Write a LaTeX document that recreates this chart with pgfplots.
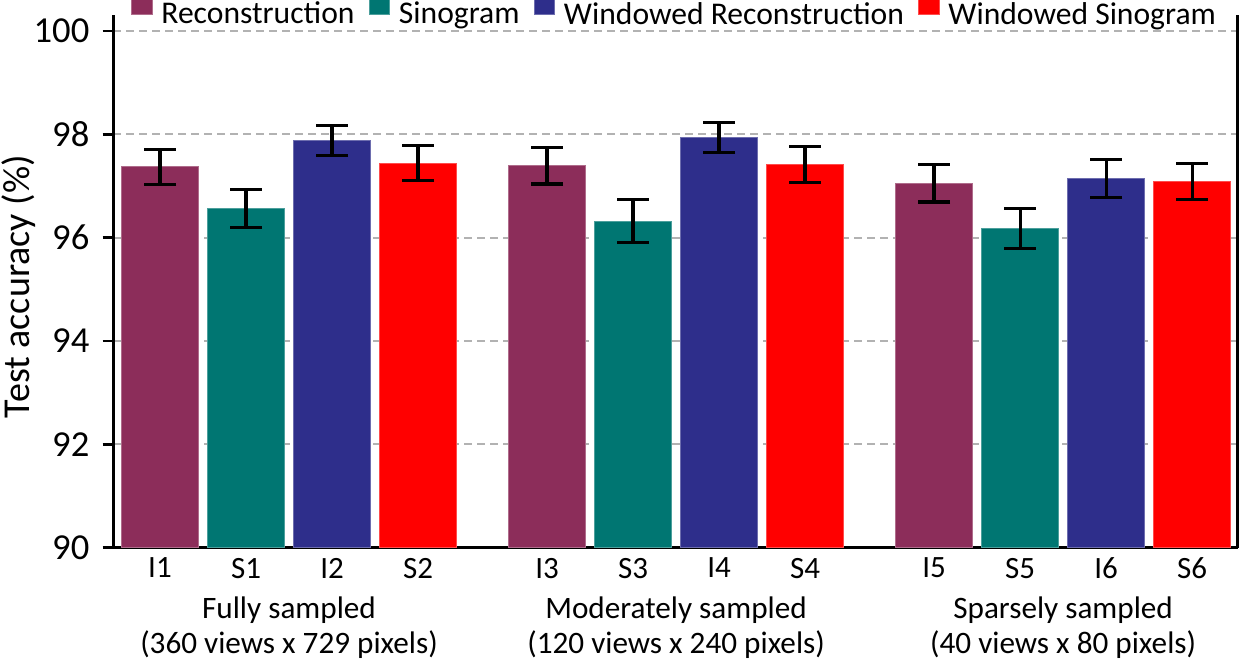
\documentclass[border=0pt]{standalone}
\usepackage{pgfplots}
\pgfplotsset{compat=1.18}
\usepackage{fontspec}
\setmainfont{Carlito}
\definecolor{recon}{RGB}{140,45,90}
\definecolor{sino}{RGB}{0,118,114}
\definecolor{wrecon}{RGB}{46,46,139}
\definecolor{wsino}{RGB}{255,0,0}
\definecolor{gridgray}{RGB}{178,178,178}

\pgfplotstableread{
x y e
0 97.37 0.34
4.5 97.39 0.35
9 97.05 0.36
}\recon
\pgfplotstableread{
x y e
1 96.56 0.37
5.5 96.32 0.42
10 96.18 0.39
}\sino
\pgfplotstableread{
x y e
2 97.88 0.29
6.5 97.94 0.29
11 97.14 0.37
}\wrecon
\pgfplotstableread{
x y e
3 97.44 0.34
7.5 97.42 0.35
12 97.09 0.35
}\wsino

\begin{document}
\begin{tikzpicture}
\begin{axis}[
  name=ax,
  scale only axis,
  width=562.2pt, height=266.3pt,
  xmin=-0.543, xmax=12.53,
  ymin=90, ymax=100.31,
  axis x line*=bottom,
  axis y line*=box,
  axis line style={line width=1.3pt, black},
  ytick={90,92,94,96,98,100},
  ytick pos=left,
  tick align=outside,
  major tick length=5.3pt,
  ytick style={line width=1.3pt, black},
  xtick={0,1,2,3,4.5,5.5,6.5,7.5,9,10,11,12},
  xticklabels={I1,S1,I2,S2,I3,S3,I4,S4,I5,S5,I6,S6},
  xtick style={draw=none},
  /pgf/number format/assume math mode=true,
  yticklabel style={font=\fontsize{18.3}{20}\selectfont, inner sep=0pt, anchor=east, xshift=-6.5pt},
  xticklabel style={font=\fontsize{15.5}{17}\selectfont, inner sep=0pt, anchor=north, yshift=0.3pt},
  ymajorgrids,
  grid style={gridgray, line width=1pt, dash pattern=on 4pt off 2.5pt},
  ylabel={Test accuracy (\%)},
  every axis y label/.style={at={(axis description cs:-0.0996,0.49)}, rotate=90, anchor=north, inner sep=0pt, font=\fontsize{19}{21}\selectfont},
  ybar, bar width=0.892, bar shift=0pt,
  legend columns=4,
  legend style={at={(axis description cs:0.4982,1)}, anchor=center, yshift=2.0pt, draw=none, fill=none,
    inner sep=0pt, outer sep=0pt,
    font=\fontsize{15.8}{17}\selectfont,
    /tikz/every even column/.append style={column sep=7pt},
    /tikz/every odd column/.append style={column sep=4.5pt},
    nodes={inner sep=0pt}},
  legend image code/.code={\fill[#1] (0pt,0pt) rectangle (10.3pt,9.6pt);},
  error bars/error bar style={line width=1.6pt, black},
  error bars/error mark options={rotate=90, mark size=8pt, line width=1.6pt, black},
]
\addplot[fill=recon, draw=recon!70!white, line width=0.4pt, error bars/.cd, y dir=both, y explicit] table[x=x, y=y, y error=e] {\recon};
\addlegendentry{Reconstruction}
\addplot[fill=sino, draw=sino!70!white, line width=0.4pt, error bars/.cd, y dir=both, y explicit] table[x=x, y=y, y error=e] {\sino};
\addlegendentry{Sinogram}
\addplot[fill=wrecon, draw=wrecon!70!white, line width=0.4pt, error bars/.cd, y dir=both, y explicit] table[x=x, y=y, y error=e] {\wrecon};
\addlegendentry{Windowed Reconstruction}
\addplot[fill=wsino, draw=wsino!70!white, line width=0.4pt, error bars/.cd, y dir=both, y explicit] table[x=x, y=y, y error=e] {\wsino};
\addlegendentry{Windowed Sinogram}
\coordinate (g1) at (axis cs:1.5,90);
\coordinate (g2) at (axis cs:6,90);
\coordinate (g3) at (axis cs:10.5,90);
\end{axis}
\begin{scope}[every node/.style={anchor=north, align=center, inner sep=0pt, yshift=-24.2pt, font=\fontsize{15.6}{17.8}\selectfont}]
\node at (g1) {Fully sampled\\(360 views x 729 pixels)};
\node at (g2) {Moderately sampled\\(120 views x 240 pixels)};
\node at (g3) {Sparsely sampled\\(40 views x 80 pixels)};
\end{scope}
\pgfresetboundingbox
\path[use as bounding box] ([xshift=-56.65pt, yshift=-58.15pt]ax.south west) rectangle ([xshift=1.65pt, yshift=7.5pt]ax.north east);
\end{tikzpicture}
\end{document}
